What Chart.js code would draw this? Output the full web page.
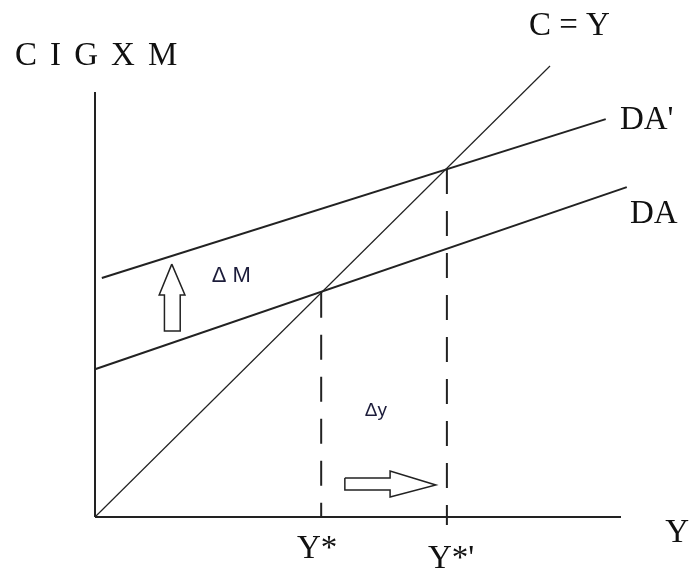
<!DOCTYPE html>
<html>
<head>
<meta charset="utf-8">
<script src="https://cdn.jsdelivr.net/npm/chart.js@4/dist/chart.umd.min.js"></script>
<style>
  html, body { margin: 0; padding: 0; background: #fff; }
  #wrap { width: 691px; height: 571px; }
</style>
</head>
<body>
<div id="wrap"><canvas id="myChart" width="691" height="571"></canvas></div>
<script>
// data units: x 0..100 along the Y axis, y 0..80 up the CIGXM axis
const axisX = [{x: 0, y: 0}, {x: 100, y: 0}];
const axisY = [{x: 0, y: 0}, {x: 0, y: 80}];
const lineCY = [{x: 0, y: 0}, {x: 86.5, y: 84.9}];
const lineDA = [{x: 0, y: 27.8}, {x: 101.1, y: 62.1}];
const lineDA2 = [{x: 1.3, y: 45.0}, {x: 97.1, y: 74.9}];
const dropY1 = [{x: 43.0, y: 42.2}, {x: 43.0, y: 0}];
const dropY2 = [{x: 66.9, y: 65.5}, {x: 66.9, y: -1.5}];

const arrowUp = [
  {x: 14.6, y: 47.6}, {x: 17.1, y: 41.8}, {x: 16.2, y: 41.8}, {x: 16.2, y: 35.0},
  {x: 13.2, y: 35.0}, {x: 13.2, y: 41.8}, {x: 12.2, y: 41.8}, {x: 14.6, y: 47.6}
];
const arrowRight = [
  {x: 47.5, y: 7.34}, {x: 56.1, y: 7.34}, {x: 56.1, y: 8.66}, {x: 64.8, y: 6.02},
  {x: 56.1, y: 3.76}, {x: 56.1, y: 5.08}, {x: 47.5, y: 5.08}, {x: 47.5, y: 7.34}
];

const labelText = ["C I G X M", "C = Y", "DA'", "DA", "\u0394 M", "\u0394y", "Y*", "Y*'", "Y"];
const labelX = [-15.2, 82.5, 99.8, 101.7, 22.2, 51.3, 38.4, 63.3, 108.4];
const labelY = [85.1, 90.7, 73.0, 55.3, 44.2, 19.0, -7.7, -9.6, -4.7];

const serif = '33px "Liberation Serif", "Times New Roman", serif';
const labelFont = [serif, serif, serif, serif,
  '22px "Liberation Sans", Arial, sans-serif', '19px "Liberation Sans", Arial, sans-serif',
  serif, serif, serif];
const labelColor = ["#111", "#111", "#111", "#111", "#1c1c3a", "#1c1c3a", "#111", "#111", "#111"];
const labelSpacing = ["2.4px", "0px", "0px", "0px", "0px", "0px", "0px", "0px", "0px"];

const ink = '#222';

function lineSet(points, width, dash) {
  return {
    data: points,
    showLine: true,
    borderColor: ink,
    borderWidth: width,
    borderDash: dash || [],
    pointRadius: 0,
    pointHoverRadius: 0,
    fill: false,
    tension: 0,
    clip: false
  };
}

const labelPlugin = {
  id: 'labels',
  afterDatasetsDraw(chart) {
    const ctx = chart.ctx;
    const xs = chart.scales.x, ys = chart.scales.y;
    ctx.save();
    ctx.textAlign = 'left';
    ctx.textBaseline = 'alphabetic';
    labelText.forEach((t, i) => {
      ctx.font = labelFont[i];
      ctx.fillStyle = labelColor[i];
      if ('letterSpacing' in ctx) ctx.letterSpacing = labelSpacing[i];
      ctx.fillText(t, xs.getPixelForValue(labelX[i]), ys.getPixelForValue(labelY[i]));
    });
    ctx.restore();
  }
};

const canvas = document.getElementById('myChart');
const myChart = new Chart(canvas, {
  type: 'scatter',
  data: {
    datasets: [
      lineSet(axisX, 2),
      lineSet(axisY, 2),
      lineSet(lineCY, 1.2),
      lineSet(lineDA, 2),
      lineSet(lineDA2, 2),
      lineSet(dropY1, 2, [25, 17]),
      lineSet(dropY2, 2, [25, 17]),
      lineSet(arrowUp, 1.5),
      lineSet(arrowRight, 1.5)
    ]
  },
  options: {
    responsive: false,
    animation: false,
    layout: { padding: { left: 95, right: 70, top: 92, bottom: 54 } },
    scales: {
      x: { type: 'linear', min: 0, max: 100, display: false },
      y: { type: 'linear', min: 0, max: 80, display: false }
    },
    plugins: {
      legend: { display: false },
      tooltip: { enabled: false },
      title: { display: false }
    }
  },
  plugins: [labelPlugin]
});
</script>
</body>
</html>
